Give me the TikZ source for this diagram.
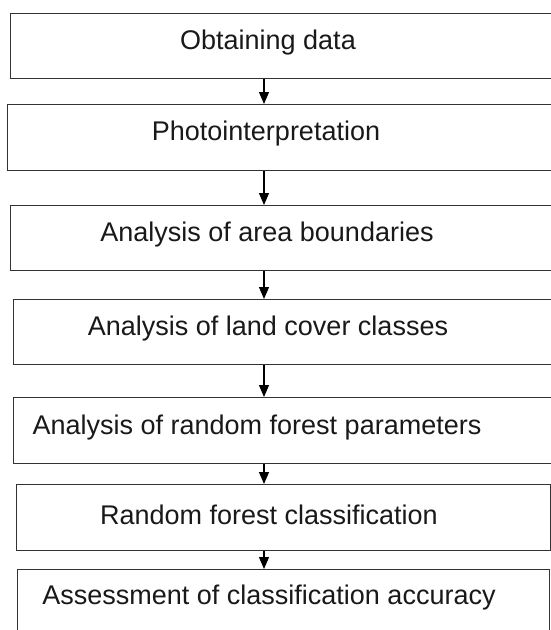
\documentclass[tikz,border=0pt]{standalone}
\usepackage{fontspec}
\setmainfont{Liberation Sans}
\usetikzlibrary{arrows.meta}
\begin{document}
\begin{tikzpicture}[x=1pt,y=-1pt,
  box/.style={draw=black!80,line width=1.3pt,fill=white,inner sep=0pt,anchor=north west},
  lbl/.style={text=black!90,inner sep=0pt,font=\fontsize{27}{32}\selectfont},
  arr/.style={draw=black,line width=1.2pt,-{Triangle[length=12pt,width=10pt]}}]
\useasboundingbox (0,0) rectangle (551,630);
\clip (0,0) rectangle (551,630);
\fill[white] (0,0) rectangle (551,630);
\coordinate (ax) at (264,0);
\node[box,minimum width=550pt,minimum height=65pt] (b1) at (10,13) {};
\node[box,minimum width=553pt,minimum height=66pt] (b2) at (7,104) {};
\node[box,minimum width=550pt,minimum height=65pt] (b3) at (10,205) {};
\node[box,minimum width=547pt,minimum height=65pt] (b4) at (13,299) {};
\node[box,minimum width=547pt,minimum height=66pt] (b5) at (13,397) {};
\node[box,minimum width=534pt,minimum height=66pt] (b6) at (16,484) {};
\node[box,minimum width=532pt,minimum height=75pt] (b7) at (17,569) {};
\node[lbl] (t1) at (268,43) {Obtaining data};
\node[lbl] (t2) at (266,134) {Photointerpretation};
\node[lbl] (t3) at (267,235) {Analysis of area boundaries};
\node[lbl] (t4) at (268,329) {Analysis of land cover classes};
\node[lbl] (t5) at (257,428) {Analysis of random forest parameters};
\node[lbl] (t6) at (269,515) {Random forest classification};
\node[lbl] (t7) at (269,598) {Assessment of classification accuracy};
\draw[arr] (b1.south -| ax) -- (b2.north -| ax);
\draw[arr] (b2.south -| ax) -- (b3.north -| ax);
\draw[arr] (b3.south -| ax) -- (b4.north -| ax);
\draw[arr] (b4.south -| ax) -- (b5.north -| ax);
\draw[arr] (b5.south -| ax) -- (b6.north -| ax);
\draw[arr] (b6.south -| ax) -- (b7.north -| ax);
\end{tikzpicture}
\end{document}
